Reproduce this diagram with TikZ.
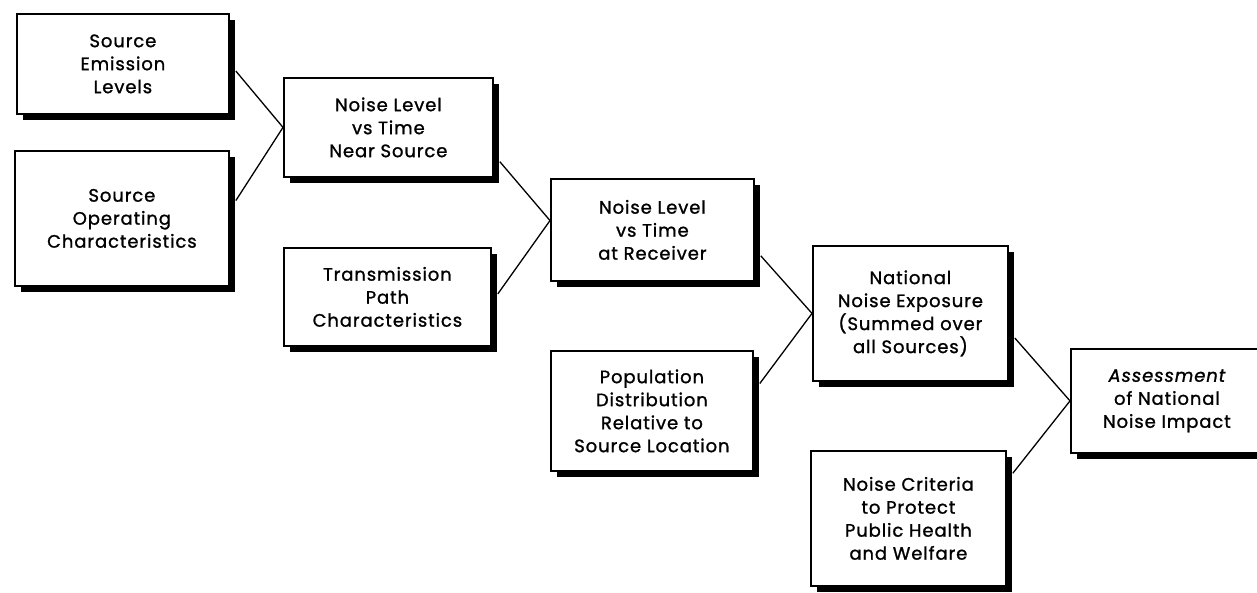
\documentclass[tikz,border=0pt]{standalone}
\usepackage{fontspec}
\setmainfont{Poppins}
\newfontfamily\boxfont{Poppins}[FakeBold=1.2, LetterSpace=5]
\usetikzlibrary{calc,shadows}
\begin{document}
\begin{tikzpicture}[x=1pt,y=-1pt,
  box/.style={draw=black, line width=1.8pt, fill=white, anchor=north west,
    align=center, inner sep=0pt, font=\boxfont\fontsize{18}{23}\selectfont,
    general shadow={fill=black, shadow xshift=6pt, shadow yshift=-6pt}},
  link/.style={draw=black, line width=1.3pt}]
\useasboundingbox (0,0) rectangle (1257,593);
\clip (0,0) rectangle (1257,593);
\node[box, minimum width=212pt, minimum height=100pt] (A) at (16,13) {Source\\Emission\\Levels};
\node[box, minimum width=214pt, minimum height=135pt] (B) at (14,150) {Source\\Operating\\Characteristics};
\node[box, minimum width=209pt, minimum height=99pt] (C) at (283,77) {Noise Level\\vs Time\\Near Source};
\node[box, minimum width=207pt, minimum height=98pt] (D) at (283,247) {Transmission\\Path\\Characteristics};
\node[box, minimum width=203pt, minimum height=102pt] (E) at (550,178) {Noise Level\\vs Time\\at Receiver};
\node[box, minimum width=202pt, minimum height=120pt] (F) at (550,350) {Population\\Distribution\\Relative to\\Source Location};
\node[box, minimum width=195pt, minimum height=135pt] (G) at (812,245) {National\\Noise Exposure\\(Summed over\\all Sources)};
\node[box, minimum width=195pt, minimum height=135pt] (H) at (810,450) {Noise Criteria\\to Protect\\Public Health\\and Welfare};
\node[box, minimum width=192pt, minimum height=104pt] (I) at (1070,348) {\itshape Assessment\\of National\\Noise Impact};

\draw[link] ($(A.north east)!0.57!(A.south east)+(6,0)$) -- (C.west);
\draw[link] ($(B.north east)!0.37!(B.south east)+(6,0)$) -- (C.west);
\draw[link] ($(C.north east)!0.84!(C.south east)+(6,0)$) -- ($(E.north west)!0.41!(E.south west)$);
\draw[link] ($(D.north east)!0.47!(D.south east)+(6,0)$) -- ($(E.north west)!0.41!(E.south west)$);
\draw[link] ($(E.north east)!0.75!(E.south east)+(6,0)$) -- (G.west);
\draw[link] ($(F.north east)!0.275!(F.south east)+(6,0)$) -- (G.west);
\draw[link] ($(G.north east)!0.68!(G.south east)+(6,0)$) -- (I.west);
\draw[link] ($(H.north east)!0.17!(H.south east)+(6,0)$) -- (I.west);
\end{tikzpicture}
\end{document}
